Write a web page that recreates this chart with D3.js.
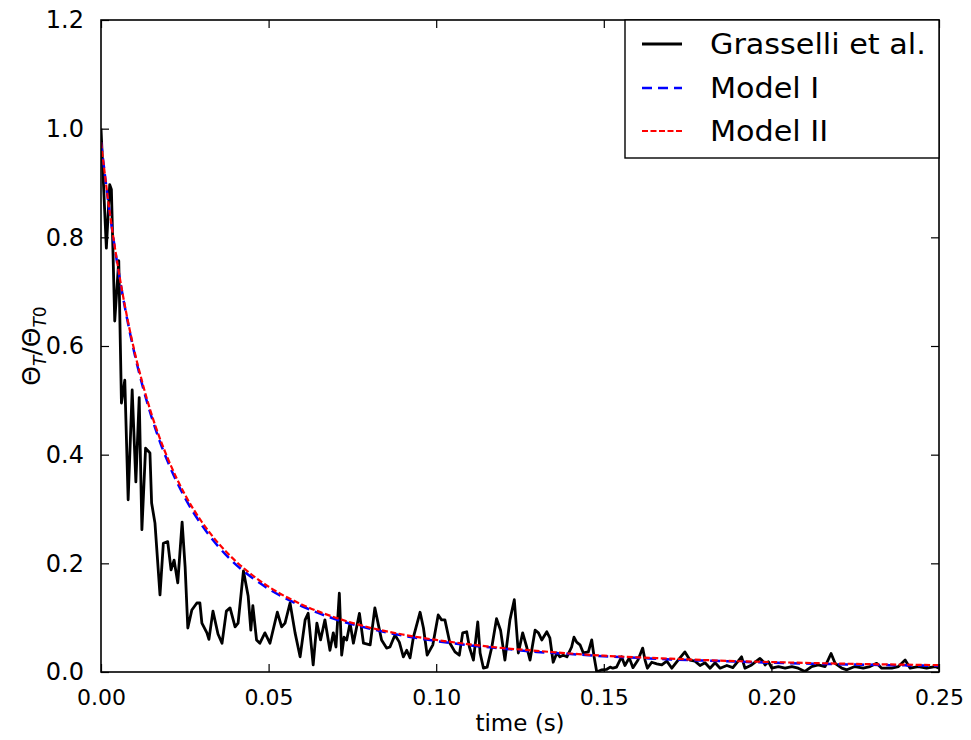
<!DOCTYPE html>
<html>
<head>
<meta charset="utf-8">
<script src="https://cdn.jsdelivr.net/npm/d3@7"></script>
<style>
  html, body { margin: 0; padding: 0; background: #ffffff; }
  svg { display: block; font-family: "DejaVu Sans", sans-serif; }
</style>
</head>
<body>
<svg id="chart" width="971" height="740"></svg>
<script>
// ---------------- data ----------------
const grasselliTime = [
  0.0000,0.0016,0.0026,0.0031,0.0041,0.0053,0.0061,0.0071,0.0081,0.0093,
  0.0104,0.0114,0.0122,0.0133,0.0146,0.0151,0.0161,0.0176,0.0186,0.0199,
  0.0209,0.0218,0.0229,0.0242,0.0251,0.0259,0.0271,0.0286,0.0295,0.0301,
  0.0316,0.0322,0.0334,0.0349,0.0361,0.0374,0.0385,0.0400,0.0409,0.0425,
  0.0439,0.0447,0.0453,0.0464,0.0474,0.0489,0.0504,0.0526,0.0539,0.0549,
  0.0564,0.0579,0.0594,0.0609,0.0618,0.0633,0.0644,0.0655,0.0668,0.0683,
  0.0693,0.0701,0.0711,0.0718,0.0725,0.0733,0.0743,0.0753,0.0771,0.0783,
  0.0803,0.0817,0.0837,0.0852,0.0862,0.0877,0.0890,0.0902,0.0912,0.0922,
  0.0932,0.0952,0.0962,0.0973,0.0990,0.1006,0.1016,0.1026,0.1041,0.1056,
  0.1069,0.1079,0.1091,0.1099,0.1111,0.1124,0.1131,0.1141,0.1152,0.1166,
  0.1180,0.1192,0.1205,0.1220,0.1233,0.1245,0.1258,0.1270,0.1280,0.1295,
  0.1305,0.1315,0.1330,0.1339,0.1349,0.1360,0.1369,0.1379,0.1390,0.1404,
  0.1411,0.1419,0.1429,0.1439,0.1454,0.1464,0.1471,0.1479,0.1494,0.1509,
  0.1519,0.1527,0.1538,0.1553,0.1563,0.1576,0.1587,0.1602,0.1616,0.1623,
  0.1630,0.1643,0.1658,0.1673,0.1688,0.1703,0.1717,0.1742,0.1757,0.1772,
  0.1787,0.1802,0.1817,0.1832,0.1847,0.1867,0.1885,0.1911,0.1921,0.1941,
  0.1966,0.1976,0.1981,0.1991,0.2001,0.2021,0.2041,0.2061,0.2080,0.2100,
  0.2120,0.2140,0.2160,0.2178,0.2190,0.2210,0.2225,0.2249,0.2274,0.2294,
  0.2314,0.2329,0.2359,0.2379,0.2399,0.2414,0.2438,0.2463,0.2488,0.2500
];
const grasselliValue = [
  1.000,0.780,0.897,0.888,0.646,0.757,0.495,0.537,0.317,0.519,
  0.350,0.505,0.262,0.412,0.403,0.311,0.274,0.142,0.237,0.240,
  0.188,0.206,0.164,0.276,0.193,0.081,0.114,0.127,0.127,0.090,
  0.072,0.060,0.112,0.070,0.053,0.112,0.118,0.083,0.090,0.186,
  0.140,0.077,0.122,0.059,0.053,0.072,0.053,0.110,0.083,0.090,
  0.127,0.072,0.028,0.096,0.108,0.013,0.090,0.059,0.096,0.040,
  0.072,0.046,0.145,0.031,0.064,0.059,0.090,0.053,0.108,0.053,
  0.050,0.118,0.059,0.044,0.046,0.068,0.055,0.028,0.040,0.026,
  0.064,0.110,0.081,0.031,0.050,0.105,0.096,0.096,0.053,0.037,
  0.031,0.072,0.074,0.046,0.022,0.092,0.035,0.007,0.009,0.046,
  0.098,0.077,0.022,0.096,0.133,0.035,0.072,0.046,0.022,0.077,
  0.072,0.059,0.074,0.063,0.018,0.035,0.028,0.031,0.028,0.046,
  0.064,0.055,0.050,0.035,0.037,0.059,0.028,0.000,0.004,0.005,
  0.009,0.007,0.009,0.028,0.012,0.026,0.008,0.022,0.044,0.022,
  0.007,0.018,0.015,0.013,0.020,0.007,0.018,0.037,0.022,0.020,
  0.012,0.017,0.007,0.017,0.007,0.012,0.008,0.028,0.007,0.013,
  0.025,0.019,0.013,0.019,0.007,0.010,0.007,0.010,0.007,0.001,
  0.010,0.013,0.010,0.034,0.016,0.007,0.004,0.010,0.007,0.010,
  0.016,0.007,0.007,0.010,0.022,0.007,0.010,0.007,0.010,0.007
];
const modelTime = [
  0,0.0025,0.005,0.0075,0.01,0.0125,0.015,0.0175,0.02,
  0.025,0.03,0.035,0.04,0.045,0.05,
  0.06,0.07,0.08,0.09,0.10,0.11,0.12,0.13,0.14,0.15,
  0.16,0.17,0.18,0.19,0.20,0.21,0.22,0.23,0.24,0.25
];
const modelI = [
  0.975,0.850,0.746,0.659,0.586,0.524,0.471,0.425,0.386,
  0.321,0.271,0.231,0.199,0.174,0.153,
  0.121,0.097,0.080,0.067,0.057,0.049,0.043,0.037,0.033,0.029,
  0.026,0.023,0.021,0.019,0.017,0.0155,0.0143,0.0132,0.0122,0.0113
];
const modelII = [
  0.975,0.851,0.748,0.662,0.590,0.529,0.476,0.431,0.392,
  0.327,0.277,0.237,0.205,0.179,0.157,
  0.124,0.100,0.082,0.069,0.059,0.051,0.044,0.039,0.034,0.030,
  0.027,0.0245,0.022,0.020,0.0183,0.0168,0.0155,0.0144,0.0135,0.0127
];
const xTickValues = [0, 0.05, 0.10, 0.15, 0.20, 0.25];
const xTickLabels = ["0.00", "0.05", "0.10", "0.15", "0.20", "0.25"];
const yTickValues = [0, 0.2, 0.4, 0.6, 0.8, 1.0, 1.2];
const yTickLabels = ["0.0", "0.2", "0.4", "0.6", "0.8", "1.0", "1.2"];
const seriesNames = ["Grasselli et al.", "Model I", "Model II"];
const xAxisTitle = "time (s)";

// ---------------- layout ----------------
const svg = d3.select("#chart");
const W = 971, H = 740;
const plot = { left: 101, right: 939, top: 20, bottom: 672 };

svg.append("rect").attr("width", W).attr("height", H).attr("fill", "#ffffff");

const x = d3.scaleLinear().domain([0, 0.25]).range([plot.left, plot.right]);
const y = d3.scaleLinear().domain([0, 1.2]).range([plot.bottom, plot.top]);

svg.append("clipPath").attr("id", "plotclip")
  .append("rect")
  .attr("x", plot.left).attr("y", plot.top)
  .attr("width", plot.right - plot.left).attr("height", plot.bottom - plot.top);

const g = svg.append("g").attr("clip-path", "url(#plotclip)");

const lineGen = d3.line().x(d => x(d[0])).y(d => y(d[1]));
const smoothGen = d3.line().x(d => x(d[0])).y(d => y(d[1])).curve(d3.curveMonotoneX);

const gData = grasselliTime.map((t, i) => [t, grasselliValue[i]]);
const m1Data = modelTime.map((t, i) => [t, modelI[i]]);
const m2Data = modelTime.map((t, i) => [t, modelII[i]]);

const styles = [
  { color: "#000000", width: 2.8, dash: null },
  { color: "#0000ff", width: 2.5, dash: "10,6" },
  { color: "#ff0000", width: 2.2, dash: "6,2.5" }
];

g.append("path").datum(gData).attr("d", lineGen)
  .attr("fill", "none").attr("stroke", styles[0].color)
  .attr("stroke-width", styles[0].width).attr("stroke-linejoin", "round");
g.append("path").datum(m1Data).attr("d", smoothGen)
  .attr("fill", "none").attr("stroke", styles[1].color)
  .attr("stroke-width", styles[1].width).attr("stroke-dasharray", styles[1].dash);
g.append("path").datum(m2Data).attr("d", smoothGen)
  .attr("fill", "none").attr("stroke", styles[2].color)
  .attr("stroke-width", styles[2].width).attr("stroke-dasharray", styles[2].dash);

// ---------------- axes (inward ticks on all four sides) ----------------
const tickLen = 8;
const fmtX = (d, i) => xTickLabels[i];
const fmtY = (d, i) => yTickLabels[i];

const axB = svg.append("g").attr("transform", `translate(0,${plot.bottom})`)
  .call(d3.axisBottom(x).tickValues(xTickValues).tickFormat(fmtX).tickSizeInner(-tickLen).tickSizeOuter(0).tickPadding(tickLen + 9));
const axT = svg.append("g").attr("transform", `translate(0,${plot.top})`)
  .call(d3.axisTop(x).tickValues(xTickValues).tickFormat("").tickSizeInner(-tickLen).tickSizeOuter(0));
const axL = svg.append("g").attr("transform", `translate(${plot.left},0)`)
  .call(d3.axisLeft(y).tickValues(yTickValues).tickFormat(fmtY).tickSizeInner(-tickLen).tickSizeOuter(0).tickPadding(tickLen + 9));
const axR = svg.append("g").attr("transform", `translate(${plot.right},0)`)
  .call(d3.axisRight(y).tickValues(yTickValues).tickFormat("").tickSizeInner(-tickLen).tickSizeOuter(0));

[axB, axT, axL, axR].forEach(a => {
  a.select(".domain").remove();
  a.selectAll(".tick line").attr("stroke", "#000").attr("stroke-width", 1.2);
  a.selectAll("text").attr("fill", "#000").attr("font-family", "DejaVu Sans, sans-serif");
});
axB.selectAll("text").attr("font-size", 22).attr("dy", "0.71em");
axL.selectAll("text").attr("font-size", 24);

// frame
svg.append("rect")
  .attr("x", plot.left).attr("y", plot.top)
  .attr("width", plot.right - plot.left).attr("height", plot.bottom - plot.top)
  .attr("fill", "none").attr("stroke", "#000").attr("stroke-width", 1.6);

// axis titles
svg.append("text")
  .attr("x", (plot.left + plot.right) / 2).attr("y", 731)
  .attr("text-anchor", "middle").attr("font-size", 23).attr("fill", "#000")
  .text(xAxisTitle);

const yt = svg.append("text")
  .attr("transform", `translate(40,${(plot.top + plot.bottom) / 2}) rotate(-90)`)
  .attr("text-anchor", "middle").attr("font-size", 25).attr("fill", "#000");
yt.append("tspan").text("Θ");
yt.append("tspan").attr("font-size", 17).attr("font-style", "italic").attr("dy", 6).text("T");
yt.append("tspan").attr("dy", -6).text("/Θ");
yt.append("tspan").attr("font-size", 17).attr("font-style", "italic").attr("dy", 6).text("T");
yt.append("tspan").attr("font-size", 17).text("0");

// ---------------- legend ----------------
const lg = svg.append("g");
lg.append("rect")
  .attr("x", 625).attr("y", plot.top).attr("width", plot.right - 625).attr("height", 138)
  .attr("fill", "#fff").attr("stroke", "#000").attr("stroke-width", 1.4);
const rowY = [44, 88, 131];
seriesNames.forEach((name, i) => {
  lg.append("line")
    .attr("x1", 642).attr("x2", 682).attr("y1", rowY[i]).attr("y2", rowY[i])
    .attr("stroke", styles[i].color).attr("stroke-width", styles[i].width)
    .attr("stroke-dasharray", styles[i].dash);
  lg.append("text")
    .attr("transform", `translate(710,${rowY[i] + 10}) scale(1.08,1)`)
    .attr("font-size", 28).attr("fill", "#000")
    .text(name);
});
</script>
</body>
</html>
